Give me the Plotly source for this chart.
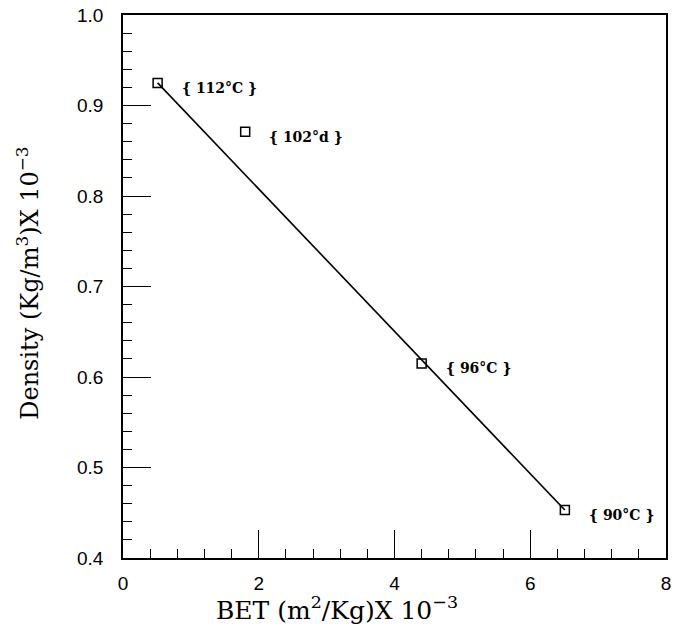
import plotly.graph_objects as go

# Data
bet = [0.51, 1.80, 4.40, 6.51]          # BET (m2/Kg) x 10^-3
density = [0.925, 0.871, 0.615, 0.453]  # Density (Kg/m3) x 10^-3
labels = ["{ 112°C }", "{ 102°d }", "{ 96°C }", "{ 90°C }"]

# fitted straight line (drawn through 112°C and 90°C points)
fit_x = [0.51, 6.51]
fit_y = [0.925, 0.453]

x_ticks = [0, 2, 4, 6, 8]
y_ticks = [0.4, 0.5, 0.6, 0.7, 0.8, 0.9, 1.0]

fig = go.Figure()
fig.add_trace(go.Scatter(x=fit_x, y=fit_y, mode="lines",
                         line=dict(color="black", width=1.6), showlegend=False))
fig.add_trace(go.Scatter(x=bet, y=density, mode="markers",
                         marker=dict(symbol="square-open", size=9,
                                     color="black", line=dict(width=1.5, color="black")),
                         showlegend=False))

for xv, yv, t in zip(bet, density, labels):
    fig.add_annotation(x=xv, y=yv, text=t, showarrow=False, xanchor="left",
                       xshift=22, yshift=-5,
                       font=dict(family="DejaVu Serif", size=14, color="black", weight="bold"))

# axis titles as annotations (reference places them off-centre)
fig.add_annotation(xref="paper", yref="paper", x=0.395, y=0, yshift=-50,
                   xanchor="center", yanchor="middle", showarrow=False,
                   text="BET (m<sup>2</sup>/Kg)X 10<sup>−3</sup>",
                   font=dict(family="DejaVu Serif", size=25, color="black"))
fig.add_annotation(xref="paper", yref="paper", x=0, xshift=-95, y=0.505,
                   xanchor="center", yanchor="middle", showarrow=False, textangle=-90,
                   text="Density (Kg/m<sup>3</sup>)X 10<sup>−3</sup>",
                   font=dict(family="DejaVu Serif", size=24, color="black"))

axis_common = dict(showline=True, linecolor="black", linewidth=1.6, mirror=True,
                   showgrid=False, zeroline=False, ticks="inside", ticklen=28,
                   tickwidth=1.4, tickcolor="black", ticklabeloverflow="allow",
                   tickfont=dict(family="Liberation Sans", size=19, color="black"))

fig.update_xaxes(range=[0, 8], tickvals=x_ticks, ticktext=[str(v) for v in x_ticks],
                 minor=dict(dtick=0.4, ticks="inside", ticklen=9, tickwidth=1.4, tickcolor="black"),
                 ticklabelstandoff=7, **axis_common)
fig.update_yaxes(range=[0.4, 1.0], tickvals=y_ticks, ticktext=[f"{v:.1f}" for v in y_ticks],
                 minor=dict(dtick=0.02, ticks="inside", ticklen=9, tickwidth=1.4, tickcolor="black"),
                 ticklabelstandoff=14, **axis_common)

fig.update_layout(width=674, height=627, margin=dict(l=123, r=3, t=15, b=69),
                  plot_bgcolor="white", paper_bgcolor="white")

fig.write_html("out.html")
